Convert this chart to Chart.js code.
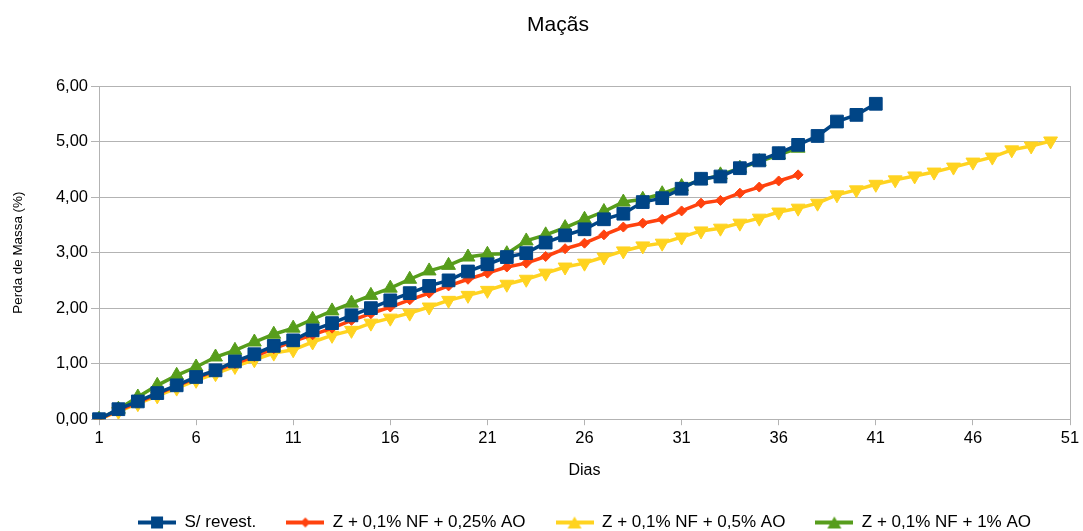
<!DOCTYPE html>
<html>
<head>
<meta charset="utf-8">
<script src="https://cdn.jsdelivr.net/npm/chart.js@4.4.0/dist/chart.umd.min.js"></script>
<style>
  body { margin: 0; background: #fff; }
  #wrap { width: 1083px; height: 531px; }
</style>
</head>
<body>
<div id="wrap"><canvas id="grafico" width="1083" height="531"></canvas></div>
<script>
// dias 1..51
var dias = [];
for (var d = 1; d <= 51; d++) dias.push(String(d));

var semRevest = [0, 0.18, 0.32, 0.47, 0.61, 0.76, 0.88, 1.04, 1.17, 1.32,
  1.42, 1.60, 1.73, 1.87, 2.00, 2.14, 2.27, 2.40, 2.50, 2.66,
  2.79, 2.92, 2.99, 3.18, 3.31, 3.42, 3.60, 3.70, 3.91, 3.98,
  4.15, 4.33, 4.37, 4.52, 4.66, 4.79, 4.94, 5.10, 5.36, 5.48,
  5.68];

var nf025 = [0, 0.16, 0.30, 0.45, 0.60, 0.74, 0.87, 1.00, 1.13, 1.27,
  1.40, 1.52, 1.64, 1.78, 1.90, 2.02, 2.15, 2.27, 2.40, 2.52,
  2.63, 2.74, 2.81, 2.93, 3.07, 3.17, 3.32, 3.46, 3.53, 3.60,
  3.75, 3.89, 3.94, 4.07, 4.18, 4.29, 4.40];

var nf05 = [0, 0.14, 0.28, 0.42, 0.56, 0.70, 0.82, 0.95, 1.07, 1.19,
  1.25, 1.39, 1.51, 1.60, 1.73, 1.82, 1.91, 2.02, 2.14, 2.23,
  2.32, 2.43, 2.52, 2.63, 2.74, 2.81, 2.92, 3.03, 3.12, 3.17,
  3.28, 3.39, 3.44, 3.53, 3.62, 3.73, 3.80, 3.89, 4.04, 4.13,
  4.23, 4.31, 4.38, 4.45, 4.54, 4.63, 4.72, 4.85, 4.92, 5.01];

var nf1 = [0, 0.18, 0.40, 0.61, 0.79, 0.94, 1.12, 1.24, 1.39, 1.53,
  1.64, 1.80, 1.95, 2.09, 2.23, 2.36, 2.52, 2.67, 2.77, 2.92,
  2.97, 2.98, 3.21, 3.32, 3.45, 3.60, 3.74, 3.91, 3.96, 4.06,
  4.19, 4.30, 4.40, 4.52, 4.64, 4.76, 4.88];

var nomes = ['S/ revest.', 'Z + 0,1% NF + 0,25% AO', 'Z + 0,1% NF + 0,5% AO', 'Z + 0,1% NF + 1% AO'];
var cores = ['#004586', '#ff420e', '#ffd320', '#579d1c'];

// simbolo da legenda: linha + marcador
function simbolo(cor, tipo) {
  var c = document.createElement('canvas');
  c.width = 38; c.height = 14;
  var g = c.getContext('2d');
  g.strokeStyle = cor; g.fillStyle = cor; g.lineWidth = 4;
  g.beginPath(); g.moveTo(0, 7); g.lineTo(38, 7); g.stroke();
  g.beginPath();
  if (tipo == 'rect') { g.rect(13, 1, 12, 12); }
  else if (tipo == 'rectRot') { g.moveTo(19, 2); g.lineTo(24, 7); g.lineTo(19, 12); g.lineTo(14, 7); }
  else if (tipo == 'down') { g.moveTo(12, 1); g.lineTo(26, 1); g.lineTo(19, 13); }
  else { g.moveTo(19, 1); g.lineTo(26, 13); g.lineTo(12, 13); }
  g.closePath(); g.fill();
  return c;
}
var simbolos = [simbolo(cores[0], 'rect'), simbolo(cores[1], 'rectRot'), simbolo(cores[2], 'down'), simbolo(cores[3], 'up')];

function serie(i, dados, estilo, raio, rot) {
  return {
    label: nomes[i],
    data: dados,
    borderColor: cores[i],
    backgroundColor: cores[i],
    borderWidth: 3.5,
    pointStyle: estilo,
    pointRadius: raio,
    pointRotation: rot || 0,
    pointBorderWidth: 1,
    tension: 0
  };
}

var cinza = '#b3b3b3';
var fonte = 'Liberation Sans';

new Chart(document.getElementById('grafico'), {
  type: 'line',
  data: {
    labels: dias,
    datasets: [
      serie(0, semRevest, 'rect', 9),
      serie(1, nf025, 'rectRot', 5),
      serie(2, nf05, 'triangle', 8, 180),
      serie(3, nf1, 'triangle', 8)
    ]
  },
  options: {
    responsive: false,
    animation: false,
    layout: { padding: { left: 46, right: 13, top: 0, bottom: -10 } },
    plugins: {
      title: {
        display: true,
        text: 'Maçãs',
        color: '#000',
        font: { family: fonte, size: 21, weight: 'normal' },
        padding: { top: 12.4, bottom: 48.4 }
      },
      legend: {
        position: 'bottom',
        fullSize: false,
        labels: {
          usePointStyle: true,
          pointStyleWidth: 38,
          padding: 30,
          color: '#000',
          font: { family: fonte, size: 17 },
          generateLabels: function (chart) {
            var itens = Chart.defaults.plugins.legend.labels.generateLabels(chart);
            itens.forEach(function (it, k) { it.pointStyle = simbolos[k]; });
            return itens;
          }
        }
      },
      tooltip: { enabled: false }
    },
    scales: {
      x: {
        title: {
          display: true, text: 'Dias', color: '#000',
          font: { family: fonte, size: 16 },
          padding: { top: 9.6, bottom: 4.2 }
        },
        ticks: {
          autoSkip: false, maxRotation: 0, color: '#000', padding: 3,
          font: { family: fonte, size: 16.5 },
          callback: function (v, i) { return i % 5 == 0 ? dias[i] : ''; }
        },
        grid: {
          color: function (ctx) { return ctx.index == 50 ? cinza : 'rgba(0,0,0,0)'; },
          tickColor: function (ctx) { return ctx.index % 5 == 0 ? cinza : 'rgba(0,0,0,0)'; },
          tickLength: 6
        },
        border: { color: cinza }
      },
      y: {
        min: 0, max: 6,
        afterFit: function (escala) { escala.width = 53; },
        title: {
          display: true, text: 'Perda de Massa (%)', color: '#000',
          font: { family: fonte, size: 13.4 },
          padding: { top: -36, bottom: 0 }
        },
        ticks: {
          stepSize: 1, color: '#000', padding: 3,
          font: { family: fonte, size: 16.5 },
          callback: function (v) { return v.toFixed(2).replace('.', ','); }
        },
        grid: { color: cinza, tickLength: 8 },
        border: { color: cinza }
      }
    }
  }
});
</script>
</body>
</html>
